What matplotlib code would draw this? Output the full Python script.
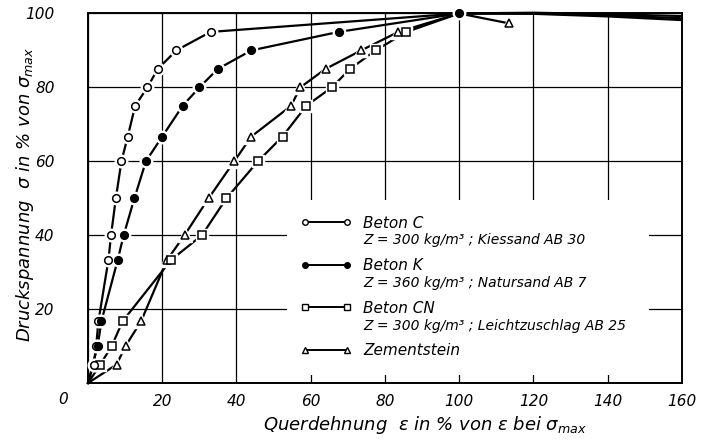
import matplotlib.pyplot as plt
from matplotlib.lines import Line2D
from matplotlib.patches import Rectangle

plt.rcParams['font.family'] = 'DejaVu Sans'
plt.rcParams['font.style'] = 'italic'
plt.rcParams['mathtext.fontset'] = 'dejavusans'

# Beton C (offene Kreise)
c_x = [0, 1.5, 2.2, 2.8, 5.5, 6.2, 7.5, 9.0, 10.7, 12.7, 16.0, 18.8, 23.8, 33.0, 100]
c_y = [0, 5, 10, 16.7, 33.3, 40, 50, 60, 66.7, 75, 80, 85, 90, 95, 100]
# Beton K (volle Kreise)
k_x = [0, 2.6, 3.6, 8.0, 9.6, 12.5, 15.6, 20.0, 25.5, 30.0, 35.0, 44.0, 67.5, 100]
k_y = [0, 10, 16.7, 33.3, 40, 50, 60, 66.7, 75, 80, 85, 90, 95, 100]
# Beton CN (Quadrate)
cn_x = [0, 3.3, 6.4, 9.3, 22.4, 30.7, 37.3, 45.8, 52.4, 58.8, 65.7, 70.6, 77.5, 85.8, 100]
cn_y = [0, 5, 10, 16.7, 33.3, 40, 50, 60, 66.7, 75, 80, 85, 90, 95, 100]
# Zementstein (Dreiecke)
z_x = [0, 7.7, 10.1, 14.3, 21.3, 26.0, 32.5, 39.4, 44.0, 54.7, 57.2, 64.0, 73.6, 83.6, 100, 113.5]
z_y = [0, 5, 10, 16.7, 33.3, 40, 50, 60, 66.7, 75, 80, 85, 90, 95, 100, 97.3]

# Verlauf nach dem Maximum (ohne Messpunkte)
tail_x = [100, 120, 140, 160]
tail_c = [100, 100.2, 99.8, 99.3]
tail_k = [100, 100, 99.5, 98.7]
tail_cn = [100, 99.9, 99.2, 98.2]

labels = ['Beton C', 'Beton K', 'Beton CN', 'Zementstein']
sublabels = ['Z = 300 kg/m³ ; Kiessand AB 30',
             'Z = 360 kg/m³ ; Natursand AB 7',
             'Z = 300 kg/m³ ; Leichtzuschlag AB 25']

fig = plt.figure(figsize=(7.07, 4.41), dpi=100)
ax = fig.add_axes([0.1245, 0.1315, 0.840, 0.838])


def series(x, y, tx, ty, marker, face, ms, top_marker=False):
    ax.plot(x + tx, y + ty, color='black', lw=1.6, zorder=3, clip_on=False)
    # Messpunkte (ohne Ursprung; Punkt bei 100 % nur fuer Beton K)
    mx = [a for a, b in zip(x[1:], y[1:]) if top_marker or a != 100]
    my = [b for a, b in zip(x[1:], y[1:]) if top_marker or a != 100]
    # weisser Rand um die Punkte, damit die Linie unterbrochen wirkt
    ax.plot(mx, my, ls='none', marker=marker, ms=ms + 3.5,
            mfc='white', mec='white', zorder=4, clip_on=False)
    ax.plot(mx, my, ls='none', marker=marker, ms=ms,
            mfc=face, mec='black', mew=1.1, zorder=5, clip_on=False)


series(z_x, z_y, [], [], '^', 'white', 6)
series(cn_x, cn_y, tail_x[1:], tail_cn[1:], 's', 'white', 5.5)
series(c_x, c_y, tail_x[1:], tail_c[1:], 'o', 'white', 5.5)
series(k_x, k_y, tail_x[1:], tail_k[1:], 'o', 'black', 5.5, top_marker=True)

ax.set_xlim(0, 160)
ax.set_ylim(0, 100)
ax.set_xticks(range(0, 161, 20))
ax.set_xticklabels([''] + [str(v) for v in range(20, 161, 20)])
ax.set_yticks(range(0, 101, 20))
ax.set_yticklabels([''] + [str(v) for v in range(20, 101, 20)])
ax.tick_params(axis='both', length=0, labelsize=11)
ax.tick_params(axis='x', pad=8)
ax.tick_params(axis='y', pad=24)
ax.grid(True, color='black', lw=0.9)
ax.set_axisbelow(True)
for s in ax.spines.values():
    s.set_linewidth(1.4)

# Gitter hinter der Legende ausgespart
ax.add_patch(Rectangle((0.335, 0.022), 0.61, 0.473, transform=ax.transAxes,
                       facecolor='white', edgecolor='none', zorder=2.5))

ax.annotate('0', xy=(0, 0), xycoords='axes fraction', xytext=(-18, -12),
            textcoords='offset points', ha='center', va='center', fontsize=11)

ax.set_xlabel('Querdehnung  ε in % von ε bei $\\sigma_{max}$', fontsize=13, va='center')
ax.xaxis.set_label_coords(0.567, -0.114)
ax.set_ylabel('Druckspannung  σ in % von $\\sigma_{max}$', fontsize=13, va='center')
ax.yaxis.set_label_coords(-0.106, 0.509)

handles = [
    Line2D([], [], color='black', lw=1.4, marker='o', mfc='white', mec='black', ms=4),
    Line2D([], [], color='black', lw=1.4, marker='o', mfc='black', mec='black', ms=4),
    Line2D([], [], color='black', lw=1.4, marker='s', mfc='white', mec='black', ms=4),
    Line2D([], [], color='black', lw=1.4, marker='^', mfc='white', mec='black', ms=4.5),
]
ax.legend(handles, labels, loc='upper left', bbox_to_anchor=(0.3576, 0.453),
          frameon=False, numpoints=2, handlelength=3.35, handletextpad=0.75,
          labelspacing=1.8, fontsize=11, borderpad=0, borderaxespad=0)

for yy, txt in zip([0.387, 0.2706, 0.154], sublabels):
    ax.text(0.463, yy, txt, transform=ax.transAxes, fontsize=10, va='center', ha='left')

fig.savefig('out.png', dpi=100)
